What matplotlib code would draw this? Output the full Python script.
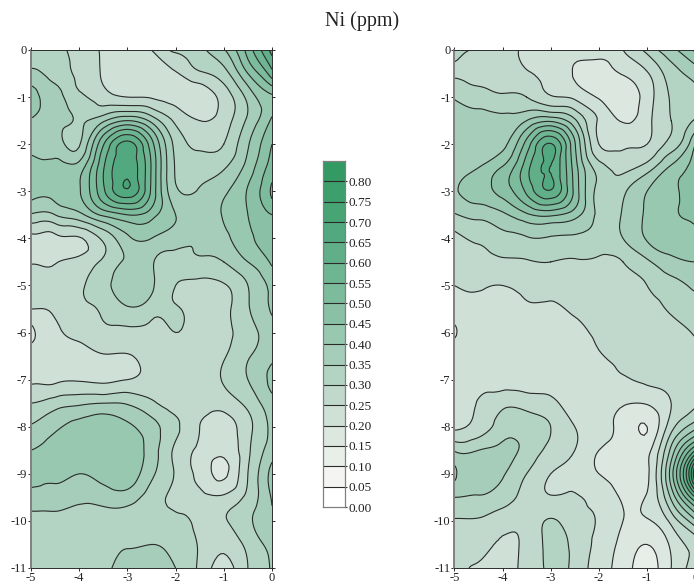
#!/usr/bin/env python3

import matplotlib
matplotlib.use("Agg")
import matplotlib.pyplot as plt
import matplotlib.tri as mtri
import numpy as np
from matplotlib.colors import BoundaryNorm, ListedColormap

plt.rcParams["axes.unicode_minus"] = False

depth_x = [-5, -4.5, -4, -3.5, -3, -2.5, -2, -1.5, -1, -0.5, 0]
depth_y = [-0.5 * i for i in range(23)]

# values, one row per depth_y
left_ni = [
    [.33, .31, .28, .245, .23, .25, .31, .34, .395, .52, .67],
    [.36, .33, .29, .245, .22, .21, .245, .29, .33, .45, .58],
    [.43, .37, .31, .27, .25, .245, .23, .22, .27, .365, .44],
    [.395, .37, .345, .39, .45, .385, .29, .25, .275, .36, .46],
    [.385, .37, .345, .545, .67, .52, .335, .29, .30, .395, .50],
    [.42, .42, .425, .595, .68, .545, .345, .325, .345, .42, .52],
    [.42, .42, .445, .59, .69, .54, .36, .355, .39, .455, .56],
    [.345, .35, .385, .46, .50, .47, .40, .365, .405, .45, .50],
    [.235, .235, .245, .31, .39, .40, .37, .355, .385, .44, .47],
    [.245, .245, .265, .31, .36, .355, .335, .34, .35, .40, .46],
    [.28, .27, .295, .33, .39, .36, .30, .285, .295, .35, .41],
    [.25, .26, .29, .305, .34, .32, .305, .27, .285, .345, .41],
    [.185, .235, .265, .29, .29, .285, .30, .27, .285, .33, .37],
    [.225, .225, .23, .245, .245, .265, .27, .27, .295, .345, .385],
    [.24, .24, .245, .24, .25, .265, .265, .27, .305, .35, .42],
    [.30, .325, .34, .35, .345, .31, .275, .265, .27, .315, .38],
    [.355, .39, .42, .43, .41, .37, .31, .25, .225, .285, .365],
    [.40, .425, .435, .44, .44, .375, .29, .24, .21, .29, .375],
    [.425, .415, .40, .42, .435, .36, .295, .235, .19, .30, .42],
    [.375, .375, .36, .37, .375, .325, .285, .265, .26, .315, .405],
    [.335, .335, .33, .33, .33, .325, .315, .29, .295, .34, .395],
    [.31, .315, .32, .33, .345, .35, .335, .295, .265, .315, .365],
    [.345, .33, .33, .34, .365, .37, .35, .29, .23, .30, .355],
]

# values
right_ni = [
    [.315, .295, .265, .24, .225, .22, .23, .25, .315, .385, .46],
    [.295, .28, .265, .255, .235, .195, .175, .205, .245, .325, .37],
    [.345, .325, .31, .30, .255, .24, .195, .16, .225, .305, .34],
    [.37, .365, .36, .40, .44, .36, .245, .195, .235, .30, .355],
    [.385, .375, .385, .52, .655, .455, .25, .24, .25, .32, .45],
    [.385, .40, .455, .58, .648, .475, .325, .285, .325, .41, .47],
    [.395, .425, .47, .56, .645, .485, .335, .34, .40, .44, .48],
    [.345, .365, .39, .44, .46, .42, .34, .355, .41, .445, .455],
    [.285, .31, .335, .345, .345, .34, .33, .35, .405, .425, .44],
    [.26, .275, .29, .295, .30, .295, .29, .30, .34, .385, .40],
    [.25, .255, .25, .26, .265, .27, .275, .285, .30, .33, .36],
    [.225, .23, .235, .245, .245, .255, .27, .27, .285, .305, .325],
    [.195, .22, .225, .23, .23, .24, .26, .27, .275, .285, .305],
    [.22, .22, .22, .22, .22, .225, .245, .26, .27, .275, .28],
    [.22, .22, .225, .225, .225, .225, .225, .245, .26, .265, .27],
    [.23, .255, .285, .28, .265, .22, .215, .205, .205, .25, .29],
    [.24, .27, .325, .325, .30, .25, .215, .185, .15, .28, .38],
    [.345, .35, .36, .335, .285, .25, .20, .185, .185, .365, .60],
    [.41, .38, .355, .30, .25, .235, .20, .18, .19, .425, .85],
    [.35, .345, .325, .28, .255, .255, .23, .195, .205, .36, .60],
    [.295, .295, .27, .265, .305, .27, .245, .20, .195, .265, .39],
    [.26, .265, .245, .26, .315, .285, .235, .185, .15, .21, .27],
    [.265, .245, .235, .265, .31, .285, .225, .175, .13, .20, .29],
]

band_colors = [
    "#ffffff", "#f4f5f3", "#e8eee8", "#dce7e0", "#cfe0d7", "#c0d9cc",
    "#b3d4c2", "#a5cdb9", "#98c8b0", "#8ac1a6", "#7cbb9c", "#6eb592",
    "#60af89", "#52a97f", "#47a475", "#3d9f6c", "#339a63",
]
levels = [i * 0.05 for i in range(18)]
bar_labels = [f"{i * 0.05:.2f}" for i in range(17)]

x_ticks = [-5, -4, -3, -2, -1, 0]
y_ticks = list(range(0, -12, -1))

W, H = 694, 585
FONT = "Liberation Serif"
LINE = "#2b2b2b"
GREY = "#808080"


def px_axes(fig, left, top, right, bottom):
    return fig.add_axes([left / W, 1 - bottom / H, (right - left) / W,
                         (bottom - top) / H])


def draw_map(ax, values, cmap, norm):
    xx, yy = np.meshgrid(depth_x, depth_y)
    tri = mtri.Triangulation(xx.ravel(), yy.ravel())
    z = np.array(values).ravel()
    # min_E gives rounder rings than the default geom on this coarse grid
    interp = mtri.CubicTriInterpolator(tri, z, kind="min_E")
    refiner = mtri.UniformTriRefiner(tri)
    fine_tri, fine_z = refiner.refine_field(z, triinterpolator=interp,
                                            subdiv=3)
    fine_z = np.clip(fine_z, 0.001, 0.849)
    ax.tricontourf(fine_tri, fine_z, levels=levels, cmap=cmap, norm=norm)
    ax.tricontour(fine_tri, fine_z, levels=levels[1:-1], colors=LINE,
                  linewidths=0.8)
    ax.set_xlim(-5, 0)
    ax.set_ylim(-11, 0)
    ax.set_xticks(x_ticks)
    ax.set_yticks(y_ticks)
    ax.tick_params(top=True, right=True, length=2.5, width=0.7, pad=0.3,
                   labelsize=9, color=LINE, labelcolor="#222222")
    ax.spines["left"].set_color(GREY)
    ax.spines["left"].set_linewidth(1.4)
    for side in ["top", "bottom", "right"]:
        ax.spines[side].set_color(LINE)
        ax.spines[side].set_linewidth(0.7)
    for label in ax.get_xticklabels() + ax.get_yticklabels():
        label.set_fontfamily(FONT)


def main() -> None:
    fig = plt.figure(figsize=(W / 100, H / 100), dpi=100)
    cmap = ListedColormap(band_colors)
    norm = BoundaryNorm(levels, cmap.N)

    draw_map(px_axes(fig, 31, 50, 272, 568), left_ni, cmap, norm)
    draw_map(px_axes(fig, 454.3, 50, 695.3, 568), right_ni, cmap, norm)

    # colour bar
    cax = px_axes(fig, 323, 161, 345, 507)
    edges = np.array(levels)
    cax.pcolormesh([0, 1], edges, np.array(levels[:-1]).reshape(-1, 1) + 0.025,
                   cmap=cmap, norm=norm)
    cax.hlines(edges[1:-1], 0, 1, colors=LINE, linewidth=0.8)
    cax.set_xlim(0, 1)
    cax.set_ylim(0, 0.85)
    cax.set_xticks([])
    cax.yaxis.tick_right()
    cax.set_yticks(edges[:-1])
    cax.set_yticklabels(bar_labels, fontfamily=FONT)
    cax.tick_params(axis="y", length=1.5, width=0.8, pad=1, labelsize=9.5,
                    color=LINE, labelcolor="#222222")
    for spine in cax.spines.values():
        spine.set_color(GREY)
        spine.set_linewidth(0.9)

    fig.text(362 / W, 1 - 21 / H, "Ni (ppm)", ha="center", va="center",
             fontfamily=FONT, fontsize=14.5, color="#222222")
    fig.savefig("out.png", dpi=100)


if __name__ == "__main__":
    main()
